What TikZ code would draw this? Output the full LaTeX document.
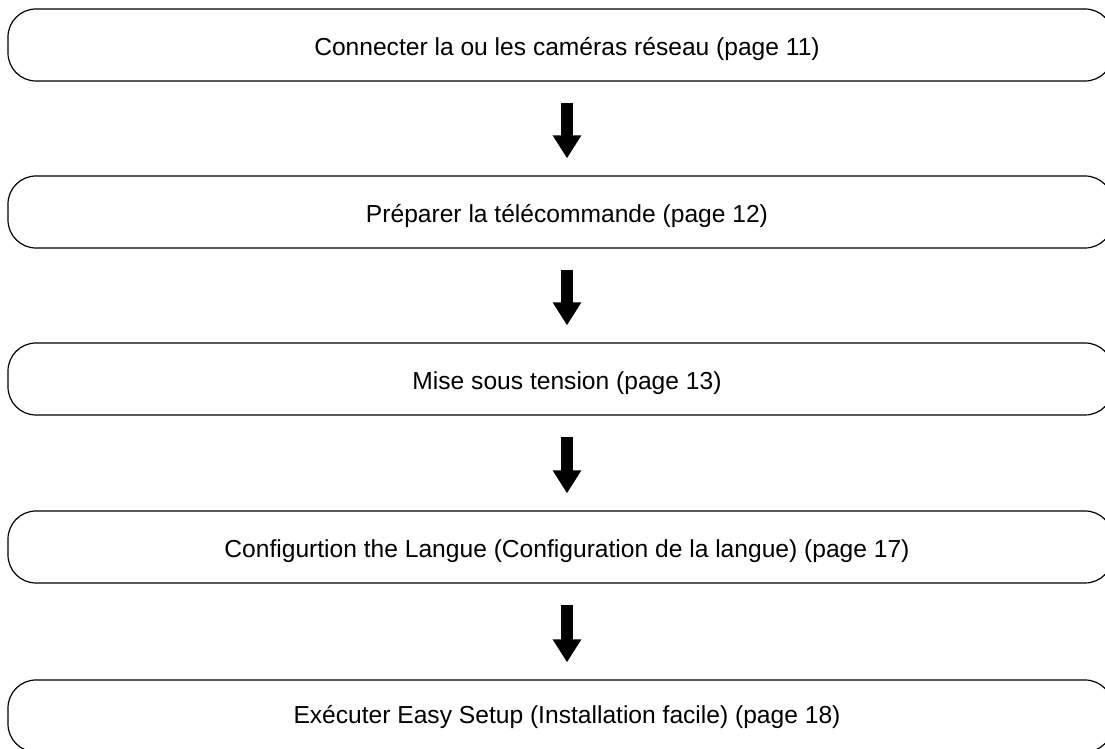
\documentclass[tikz,border=0pt]{standalone}
\usepackage{fontspec}
\setmainfont{Liberation Sans}
\usetikzlibrary{arrows.meta}

\tikzset{
  stepbox/.style={draw,rectangle,rounded corners=28pt,line width=1.2pt,
    minimum width=1105pt,minimum height=72pt,inner sep=0pt},
  steptext/.style={anchor=base,inner sep=0pt,font=\fontsize{24.6}{30}\selectfont},
  flowarrow/.style={line width=12.5pt,-{Triangle[width=27pt,length=23pt]}}
}

\begin{document}
\begin{tikzpicture}[x=1pt,y=1pt]

   \useasboundingbox (0,0) rectangle (1105,749);
   \clip (0,0) rectangle (1105,749);

   % the five steps
   \node[stepbox] (b1) at (560.5,704) {};
   \node[stepbox] (b2) at (560.5,537) {};
   \node[stepbox] (b3) at (560.5,370) {};
   \node[stepbox] (b4) at (560.5,202) {};
   \node[stepbox] (b5) at (560.5,33) {};

   \node[steptext] (t1) at ([shift={(6.5,-10.3)}]b1.center) {Connecter la ou les caméras réseau (page 11)};
   \node[steptext] (t2) at ([shift={(6.5,-10.3)}]b2.center) {Préparer la télécommande (page 12)};
   \node[steptext] (t3) at ([shift={(6.5,-10.3)}]b3.center) {Mise sous tension (page 13)};
   \node[steptext] (t4) at ([shift={(6.5,-10.3)}]b4.center) {Configurtion the Langue (Configuration de la langue) (page 17)};
   \node[steptext] (t5) at ([shift={(6.5,-7.3)}]b5.center) {Exécuter Easy Setup (Installation facile) (page 18)};

   % arrows between the steps
   \draw[flowarrow] ([shift={(6.5,-21)}]b1.south) -- ([shift={(6.5,17)}]b2.north);
   \draw[flowarrow] ([shift={(6.5,-21)}]b2.south) -- ([shift={(6.5,17)}]b3.north);
   \draw[flowarrow] ([shift={(6.5,-21)}]b3.south) -- ([shift={(6.5,17)}]b4.north);
   \draw[flowarrow] ([shift={(6.5,-21)}]b4.south) -- ([shift={(6.5,17)}]b5.north);

\end{tikzpicture}
\end{document}
